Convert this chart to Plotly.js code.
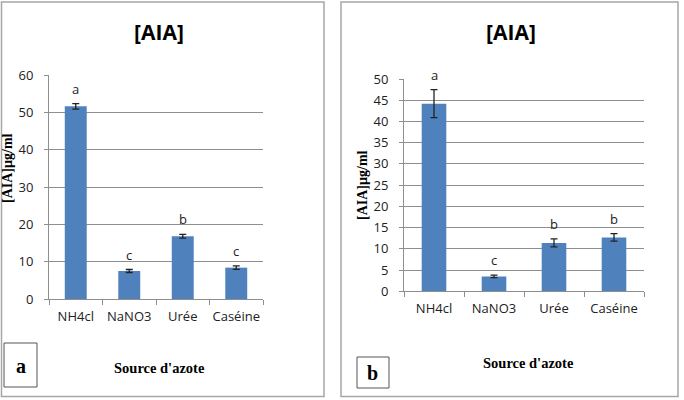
<!DOCTYPE html>
<html>
<head>
<meta charset="utf-8">
<script src="https://cdn.plot.ly/plotly-3.0.1.min.js"></script>
<style>html,body{margin:0;padding:0;background:#fff;}</style>
</head>
<body>
<div id="chart" style="width:684px;height:400px;"></div>
<script>
// ---- data ----
const categories = ["NH4cl", "NaNO3", "Urée", "Caséine"];
const valuesA = [51.6, 7.5, 16.8, 8.4];
const errorsA = [0.75, 0.4, 0.5, 0.45];
const lettersA = ["a", "c", "b", "c"];
const valuesB = [44.2, 3.5, 11.4, 12.7];
const errorsB = [3.3, 0.3, 0.95, 0.9];
const lettersB = ["a", "c", "b", "b"];
const panelTitle = "[AIA]";
const yTitle = "[AIA]µg/ml";
const xTitle = "Source d'azote";
const panelLabels = ["a", "b"];

// ---- helpers (pixel -> paper) ----
const W = 684, H = 400;
const px = x => x / W;
const py = y => 1 - y / H;

const barColor = "#4F81BD";
const gridColor = "#8e8e8e";
const tickFont = {family: "Open Sans", size: 13, color: "#222"};

function barTrace(vals, errs, xa, ya) {
  return {
    type: "bar", x: categories, y: vals, xaxis: xa, yaxis: ya,
    marker: {color: barColor, line: {width: 0}},
    error_y: {type: "data", array: errs, visible: true, color: "#222", thickness: 1.3, width: 3.5},
    showlegend: false, hoverinfo: "skip"
  };
}

function letterAnnots(vals, errs, letters, xa, ya) {
  return letters.map((l, i) => ({
    x: categories[i], y: vals[i] + errs[i], xref: xa, yref: ya,
    text: l, showarrow: false, xanchor: "center", yanchor: "bottom", yshift: 4,
    font: {family: "Open Sans", size: 13, color: "#222"}
  }));
}

const xAxisCommon = {
  type: "category", showgrid: false, showline: true, linecolor: gridColor, linewidth: 1,
  ticks: "outside", tickson: "boundaries", ticklen: 5, tickcolor: gridColor, tickangle: 0,
  tickfont: tickFont, ticklabelstandoff: 5, fixedrange: true
};
const yAxisCommon = {
  showgrid: true, gridcolor: gridColor, gridwidth: 1, showline: true, linecolor: gridColor,
  ticks: "outside", ticklen: 4, tickcolor: gridColor, tickfont: tickFont,
  zeroline: false, ticklabelstandoff: 8, fixedrange: true
};

const data = [
  barTrace(valuesA, errorsA, "x", "y"),
  barTrace(valuesB, errorsB, "x2", "y2")
];

const titleFont = {family: "Open Sans", size: 21, color: "#000", weight: "bold"};
const serifBold = {family: "Liberation Serif", size: 14, color: "#000", weight: "bold"};

function paperText(x, y, text, font, angle) {
  return {xref: "paper", yref: "paper", x: px(x), y: py(y), text: text, showarrow: false,
          xanchor: "center", yanchor: "middle", textangle: angle || 0, font: font};
}

const annotations = [
  ...letterAnnots(valuesA, errorsA, lettersA, "x", "y"),
  ...letterAnnots(valuesB, errorsB, lettersB, "x2", "y2"),
  paperText(159, 32, "<b>" + panelTitle + "</b>", titleFont),
  paperText(511, 32, "<b>" + panelTitle + "</b>", titleFont),
  paperText(8, 168, "<b>" + yTitle + "</b>", serifBold, -90),
  paperText(362, 185, "<b>" + yTitle + "</b>", serifBold, -90),
  paperText(159, 368, "<b>" + xTitle + "</b>", Object.assign({}, serifBold, {size: 14.5})),
  paperText(528, 363, "<b>" + xTitle + "</b>", Object.assign({}, serifBold, {size: 14.5})),
  paperText(20.5, 366, "<b>" + panelLabels[0] + "</b>", Object.assign({}, serifBold, {size: 20})),
  paperText(373, 373, "<b>" + panelLabels[1] + "</b>", Object.assign({}, serifBold, {size: 20}))
];

const shapes = [
  {type: "rect", xref: "paper", yref: "paper", x0: px(1.5), x1: px(324), y0: py(2), y1: py(396.5), line: {color: "#a6a6a6", width: 1.5}},
  {type: "rect", xref: "paper", yref: "paper", x0: px(341), x1: px(678), y0: py(2), y1: py(396.5), line: {color: "#a6a6a6", width: 1.5}},
  {type: "rect", xref: "paper", yref: "paper", x0: px(4), x1: px(37), y0: py(343), y1: py(387), line: {color: "#555", width: 1}},
  {type: "rect", xref: "paper", yref: "paper", x0: px(357), x1: px(389), y0: py(357), y1: py(388), line: {color: "#555", width: 1}}
];

const layout = {
  width: W, height: H, margin: {l: 0, r: 0, t: 0, b: 0},
  paper_bgcolor: "#fff", plot_bgcolor: "#fff",
  bargap: 0.59,
  xaxis: Object.assign({}, xAxisCommon, {domain: [px(49), px(263)], anchor: "y"}),
  yaxis: Object.assign({}, yAxisCommon, {domain: [py(299), py(75)], range: [0, 60], dtick: 10, anchor: "x"}),
  xaxis2: Object.assign({}, xAxisCommon, {domain: [px(404), px(644)], anchor: "y2"}),
  yaxis2: Object.assign({}, yAxisCommon, {domain: [py(291.3), py(79)], range: [0, 50], dtick: 5, anchor: "x2"}),
  annotations: annotations,
  shapes: shapes
};

Plotly.newPlot("chart", data, layout, {staticPlot: true, displayModeBar: false});
</script>
</body>
</html>
